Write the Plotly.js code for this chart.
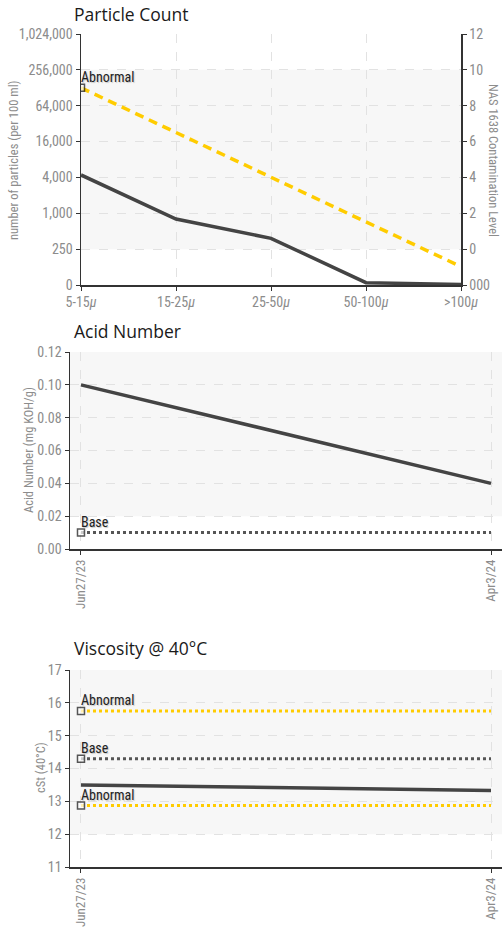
<!DOCTYPE html>
<html>
<head>
<meta charset="utf-8">
<script src="https://cdn.plot.ly/plotly-3.0.1.min.js"></script>
<style>
html,body{margin:0;padding:0;background:#fff;}
#chart{width:503px;height:929px;}
</style>
</head>
<body>
<div id="chart"></div>
<script>
// ---------- DATA ----------
const sizeCategories = ["5-15\u03bc", "15-25\u03bc", "25-50\u03bc", "50-100\u03bc", ">100\u03bc"];
const particleCounts = [4400, 800, 380, 16, 4];
const nasAbnormalCounts = [128000, 22800, 4050, 720, 128];
const countTickValues = [0, 250, 1000, 4000, 16000, 64000, 256000, 1024000];
const countTickText = ["0", "250", "1,000", "4,000", "16,000", "64,000", "256,000", "1,024,000"];
const nasTickValues = [-2, 0, 2, 4, 6, 8, 10, 12];
const nasTickText = ["000", "0", "2", "4", "6", "8", "10", "12"];

const sampleDates = ["Jun27/23", "Apr3/24"];
const acidNumber = [0.10, 0.04];
const acidBase = 0.01;

const viscosity = [13.5, 13.33];
const viscAbnormalHigh = 15.75;
const viscBase = 14.3;
const viscAbnormalLow = 12.87;

// ---------- helpers ----------
// particle axis: 0-250 linear, above that each step is a factor of 4
function countPos(v){ return v <= 250 ? v / 250 : 1 + Math.log(v / 250) / Math.log(4); }
const W = 503, H = 929;
const px = x => x / W;
const py = y => 1 - y / H;

const NARROW = "'Liberation Sans Narrow','Roboto Condensed','Arial Narrow',Roboto,sans-serif";
const TICKFONT = {family: NARROW, size: 14, color: "#8c8c8c"};
const DATETICKFONT = {family: NARROW, size: 13, color: "#8c8c8c"};
const TITLEFONT = {family: "'Open Sans','DejaVu Sans',sans-serif", size: 17.5, color: "#1a1a1a"};
const LABELFONT = {family: NARROW, size: 14, color: "#222", shadow: "1px 1px 1px #c8c8c8"};
const AXTITLEFONT = {family: NARROW, size: 12.5, color: "#8c8c8c"};
const DARK = "#444444";
const YELLOW = "#FFCC00";
const BASEGRAY = "#555555";
const MARK = {symbol: "square", color: "#fff", line: {color: "#111", width: 1.5}};

const traces = [];
// Particle chart
traces.push({x: sizeCategories, y: particleCounts.map(countPos), xaxis: "x", yaxis: "y", mode: "lines",
  line: {color: DARK, width: 3.5}, hoverinfo: "skip"});
traces.push({x: sizeCategories, y: nasAbnormalCounts.map(countPos), xaxis: "x", yaxis: "y", mode: "lines+markers",
  line: {color: YELLOW, width: 3.5, dash: "9px,6px"},
  marker: Object.assign({}, MARK, {size: sizeCategories.map((c, i) => i === 0 ? 7 : 0)}),
  hoverinfo: "skip"});
// dummy trace for the right NAS axis
traces.push({x: [sizeCategories[0]], y: [null], xaxis: "x", yaxis: "y4", mode: "lines", hoverinfo: "skip"});

// Acid chart
traces.push({x: sampleDates, y: sampleDates.map(() => acidBase), xaxis: "x2", yaxis: "y2", mode: "lines+markers",
  line: {color: BASEGRAY, width: 3, dash: "dot"},
  marker: Object.assign({}, MARK, {size: [7, 0]}), hoverinfo: "skip"});
traces.push({x: sampleDates, y: acidNumber, xaxis: "x2", yaxis: "y2", mode: "lines",
  line: {color: DARK, width: 3.5}, hoverinfo: "skip"});

// Viscosity chart
[[viscAbnormalHigh, YELLOW], [viscBase, BASEGRAY], [viscAbnormalLow, YELLOW]].forEach(([v, c]) => {
  traces.push({x: sampleDates, y: sampleDates.map(() => v), xaxis: "x3", yaxis: "y3", mode: "lines+markers",
    line: {color: c, width: 3, dash: "dot"},
    marker: Object.assign({}, MARK, {size: [7, 0]}), hoverinfo: "skip"});
});
traces.push({x: sampleDates, y: viscosity, xaxis: "x3", yaxis: "y3", mode: "lines",
  line: {color: DARK, width: 3.5}, hoverinfo: "skip"});

const baseX = {
  type: "category", showgrid: true, griddash: "dash", gridcolor: "#e2e2e2", gridwidth: 1,
  showline: true, linecolor: "#333", linewidth: 1.5, ticks: "outside", ticklen: 4, tickcolor: "#333",
  tickfont: TICKFONT, zeroline: false, fixedrange: true, automargin: false
};
const baseY = {
  showgrid: true, griddash: "dash", gridcolor: "#e2e2e2", gridwidth: 1,
  showline: true, linecolor: "#333", linewidth: 1.5, ticks: "outside", ticklen: 4, tickcolor: "#333",
  tickfont: TICKFONT, zeroline: false, fixedrange: true, automargin: false
};

const layout = {
  width: W, height: H, margin: {l: 0, r: 0, t: 0, b: 0},
  paper_bgcolor: "#fff", plot_bgcolor: "rgba(0,0,0,0)", showlegend: false,
  xaxis: Object.assign({}, baseX, {domain: [px(81), px(461)], anchor: "y", range: [0, sizeCategories.length - 1], tickangle: 0,
    tickmode: "array", tickvals: sizeCategories, ticktext: sizeCategories.map(s => s.replace("\u03bc", "<i>\u03bc</i>"))}),
  yaxis: Object.assign({}, baseY, {domain: [py(285), py(34)], anchor: "x", range: [0, 7],
    tickmode: "array", tickvals: countTickValues.map(countPos), ticktext: countTickText}),
  yaxis4: Object.assign({}, baseY, {overlaying: "y", side: "right", anchor: "x", range: [-2, 12], showgrid: false,
    tickmode: "array", tickvals: nasTickValues, ticktext: nasTickText}),
  xaxis2: Object.assign({}, baseX, {domain: [px(70), px(502)], anchor: "y2", range: [-0.0268, 1.0268], tickangle: -90, tickfont: DATETICKFONT}),
  yaxis2: Object.assign({}, baseY, {domain: [py(549), py(352)], anchor: "x2", range: [0, 0.12], dtick: 0.02, tickformat: ".2f"}),
  xaxis3: Object.assign({}, baseX, {domain: [px(70), px(502)], anchor: "y3", range: [-0.0268, 1.0268], tickangle: -90, tickfont: DATETICKFONT}),
  yaxis3: Object.assign({}, baseY, {domain: [py(867), py(670)], anchor: "x3", range: [11, 17], dtick: 1}),
  shapes: [
    {type: "rect", layer: "below", xref: "x domain", yref: "y", x0: 0, x1: 1, y0: 1, y1: 6, fillcolor: "#f7f7f7", line: {width: 0}},
    {type: "rect", layer: "below", xref: "x2 domain", yref: "y2", x0: 0, x1: 1, y0: 0.02, y1: 0.12, fillcolor: "#f7f7f7", line: {width: 0}},
    {type: "rect", layer: "below", xref: "x3 domain", yref: "y3", x0: 0, x1: 1, y0: 12, y1: 17, fillcolor: "#f7f7f7", line: {width: 0}}
  ],
  annotations: [
    {text: "Particle Count", xref: "paper", yref: "paper", x: px(72), y: py(14), xanchor: "left", yanchor: "middle", showarrow: false, font: TITLEFONT},
    {text: "Acid Number", xref: "paper", yref: "paper", x: px(72), y: py(331), xanchor: "left", yanchor: "middle", showarrow: false, font: TITLEFONT},
    {text: "Viscosity @ 40\u00b0C", xref: "paper", yref: "paper", x: px(72), y: py(648), xanchor: "left", yanchor: "middle", showarrow: false, font: TITLEFONT},
    {text: "number of particles (per 100 ml)", xref: "paper", yref: "paper", x: px(13), y: py(160), xanchor: "center", yanchor: "middle", textangle: -90, showarrow: false, font: AXTITLEFONT},
    {text: "NAS 1638 Contamination Level", xref: "paper", yref: "paper", x: px(494), y: py(160), xanchor: "center", yanchor: "middle", textangle: 90, showarrow: false, font: AXTITLEFONT},
    {text: "Acid Number (mg KOH/g)", xref: "paper", yref: "paper", x: px(28), y: py(450), xanchor: "center", yanchor: "middle", textangle: -90, showarrow: false, font: AXTITLEFONT},
    {text: "cSt (40\u00b0C)", xref: "paper", yref: "paper", x: px(40), y: py(768), xanchor: "center", yanchor: "middle", textangle: -90, showarrow: false, font: AXTITLEFONT},
    {text: "Abnormal", xref: "x", yref: "y", x: sizeCategories[0], y: countPos(nasAbnormalCounts[0]), xanchor: "left", yanchor: "bottom", xshift: -2, yshift: 1, showarrow: false, font: LABELFONT},
    {text: "Base", xref: "x2", yref: "y2", x: sampleDates[0], y: acidBase, xanchor: "left", yanchor: "bottom", xshift: -2, yshift: 1, showarrow: false, font: LABELFONT},
    {text: "Abnormal", xref: "x3", yref: "y3", x: sampleDates[0], y: viscAbnormalHigh, xanchor: "left", yanchor: "bottom", xshift: -2, yshift: 1, showarrow: false, font: LABELFONT},
    {text: "Base", xref: "x3", yref: "y3", x: sampleDates[0], y: viscBase, xanchor: "left", yanchor: "bottom", xshift: -2, yshift: 1, showarrow: false, font: LABELFONT},
    {text: "Abnormal", xref: "x3", yref: "y3", x: sampleDates[0], y: viscAbnormalLow, xanchor: "left", yanchor: "bottom", xshift: -2, yshift: 1, showarrow: false, font: LABELFONT}
  ]
};

Plotly.newPlot("chart", traces, layout, {staticPlot: true, displayModeBar: false});
</script>
</body>
</html>
